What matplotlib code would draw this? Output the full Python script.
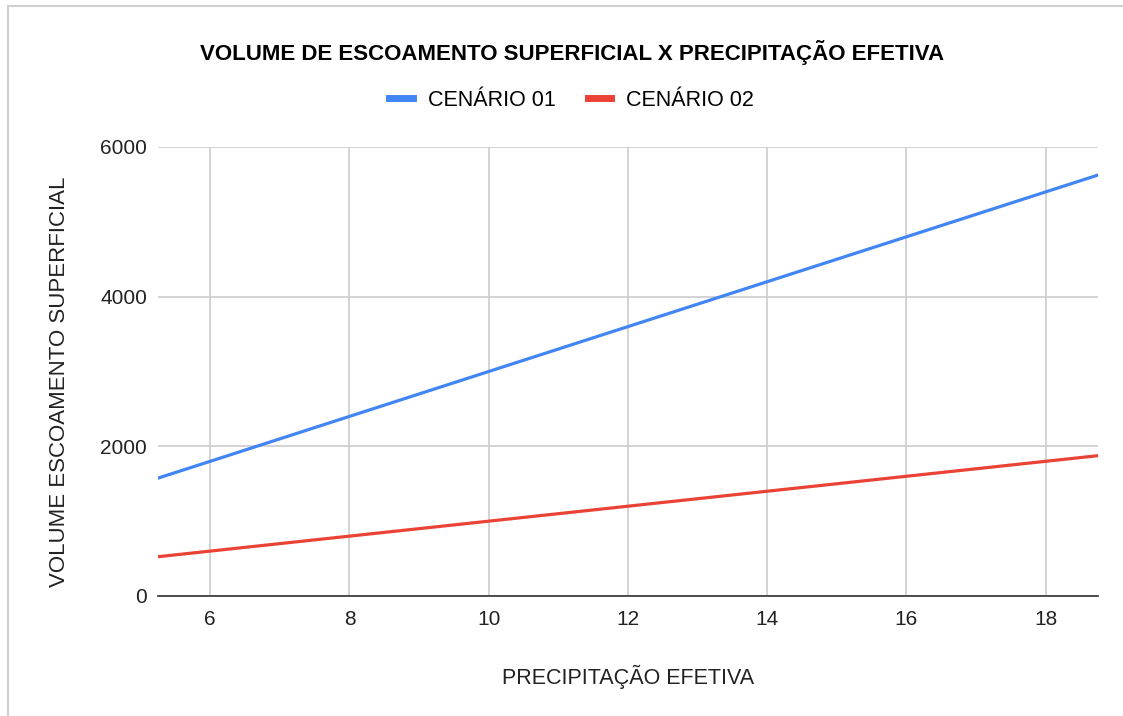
import matplotlib
matplotlib.use("Agg")
import matplotlib.pyplot as plt
from matplotlib.patches import Rectangle

plt.rcParams['font.family'] = ['Liberation Sans', 'DejaVu Sans']

# Dados
precipitacao = [5.25, 6, 8, 10, 12, 14, 16, 18, 18.75]
cenario_01 = [1575, 1800, 2400, 3000, 3600, 4200, 4800, 5400, 5625]
cenario_02 = [525, 600, 800, 1000, 1200, 1400, 1600, 1800, 1875]
xticks = [6, 8, 10, 12, 14, 16, 18]
yticks = [0, 2000, 4000, 6000]

fig = plt.figure(figsize=(11.23, 7.16), dpi=100)
ax = fig.add_axes([0.1407, 0.1676, 0.837, 0.6271])

# moldura cinza clara
fig.patches.append(Rectangle((8 / 1123, -0.1), 1.2, 1.1 - 6 / 716,
                             transform=fig.transFigure, fill=False,
                             edgecolor='#d0d0d0', linewidth=1.5))

ax.plot(precipitacao, cenario_01, color='#4285f4', lw=2.3, label='CENÁRIO 01')
ax.plot(precipitacao, cenario_02, color='#ea4335', lw=2.3, label='CENÁRIO 02')

ax.set_xlim(precipitacao[0], precipitacao[-1])
ax.set_ylim(0, 6000)
ax.set_xticks(xticks)
ax.set_yticks(yticks)
ax.grid(True, color='#cccccc', lw=1.2)
ax.set_axisbelow(True)
for s in ['top', 'right', 'left']:
    ax.spines[s].set_visible(False)
ax.spines['bottom'].set_color('#333333')
ax.spines['bottom'].set_linewidth(1.2)
ax.tick_params(length=0, labelsize=15, colors='#222222')
ax.tick_params(axis='x', pad=10)
ax.tick_params(axis='y', pad=8)

ax.set_xlabel('PRECIPITAÇÃO EFETIVA', fontsize=15.5, labelpad=26, color='#222222')
ax.set_ylabel('VOLUME ESCOAMENTO SUPERFICIAL', fontsize=16, color='#222222')
ax.yaxis.set_label_coords(-0.094, 0.477)

fig.text(0.509, 0.927, 'VOLUME DE ESCOAMENTO SUPERFICIAL X PRECIPITAÇÃO EFETIVA',
         ha='center', va='center', fontsize=16, fontweight='bold')
leg = fig.legend(loc='center', bbox_to_anchor=(0.509, 0.86), ncol=2, frameon=False,
                 fontsize=15.5, handlelength=1.1, columnspacing=1.5, handletextpad=0.7)
for h in leg.legend_handles:
    h.set_linewidth(5)

fig.savefig('out.png', dpi=100, facecolor='white')
